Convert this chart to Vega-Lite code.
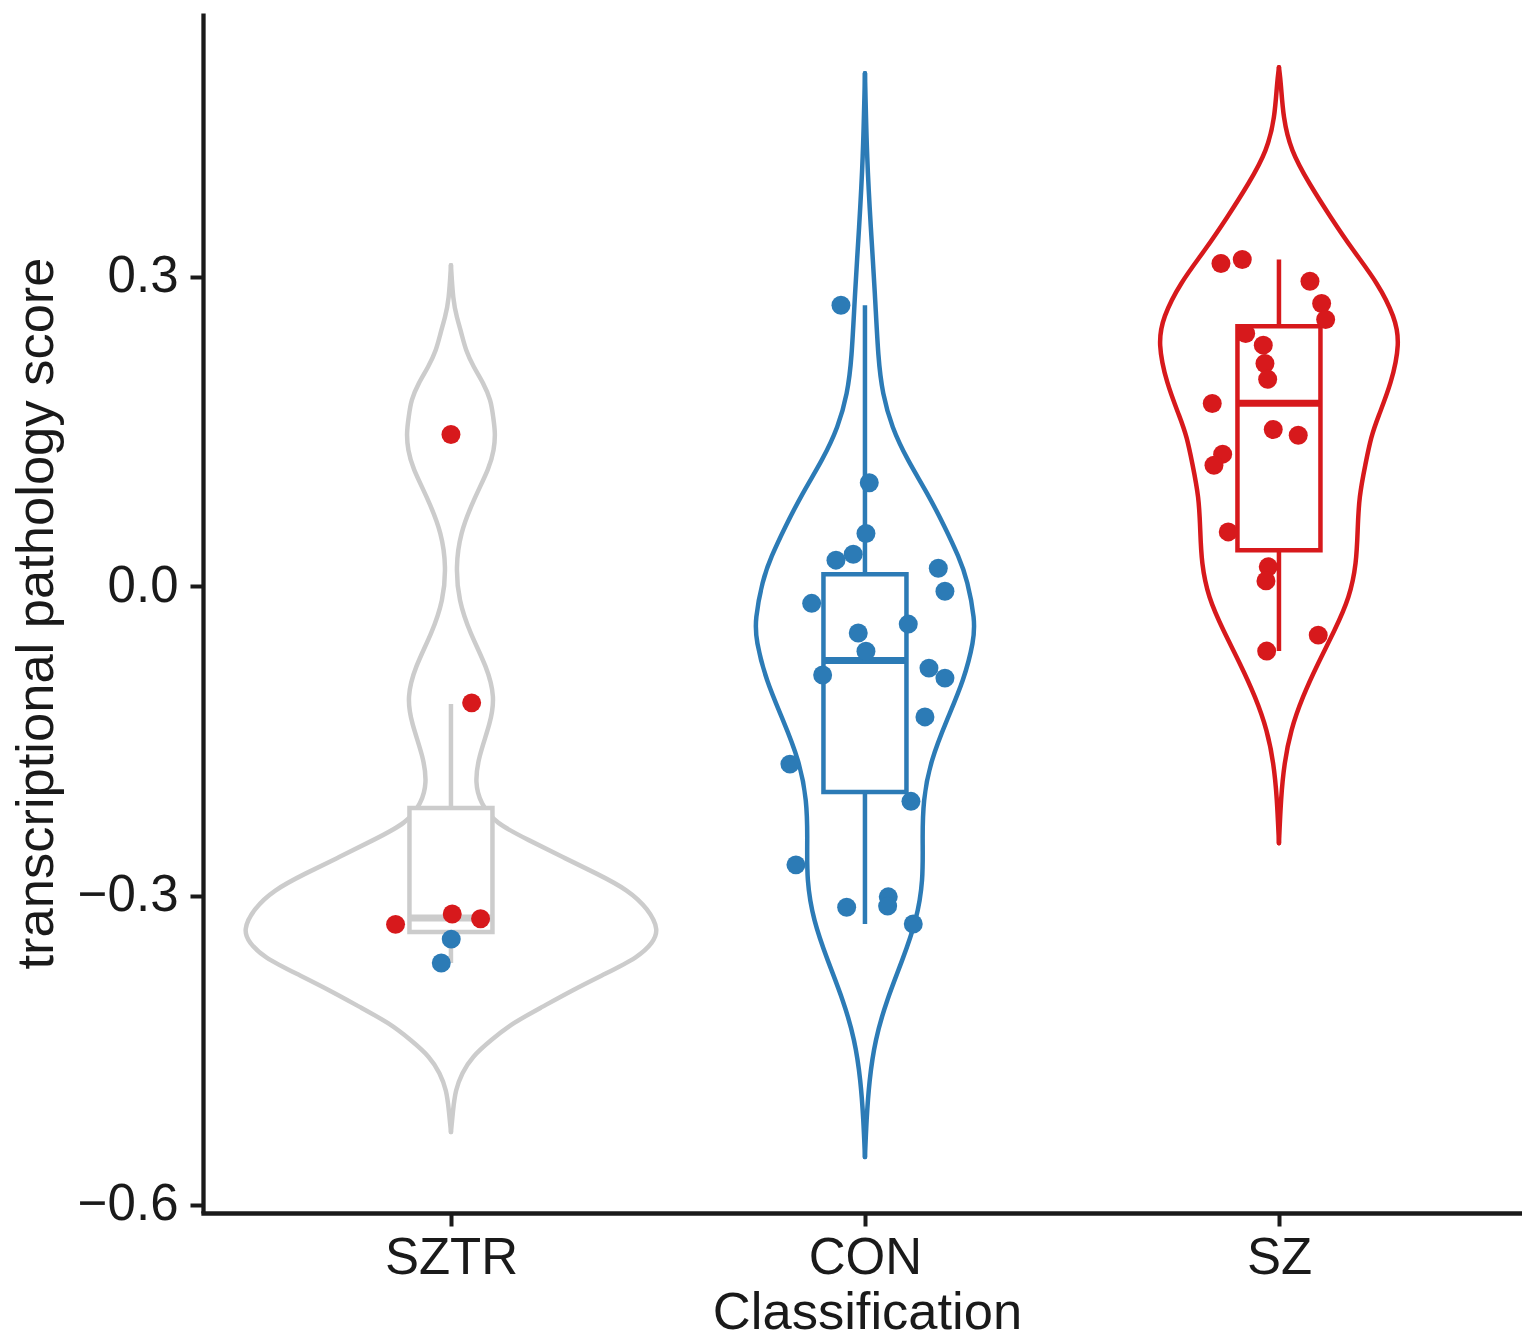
{
  "$schema": "https://vega.github.io/schema/vega-lite/v6.json",
  "width": 1319,
  "height": 1200,
  "autosize": {"type": "none"},
  "padding": {"left": 203, "top": 13, "right": 0, "bottom": 128},
  "background": "white",
  "config": {
    "view": {"stroke": null},
    "font": "Liberation Sans",
    "axis": {
      "grid": false,
      "domainColor": "#1a1a1a",
      "domainWidth": 4.3,
      "tickColor": "#1a1a1a",
      "tickWidth": 4,
      "tickSize": 13,
      "labelFontSize": 51,
      "labelColor": "#1a1a1a",
      "labelFont": "Liberation Sans",
      "titleFontSize": 52.5,
      "titleFontWeight": "normal",
      "titleColor": "#1a1a1a",
      "titleFont": "Liberation Sans"
    }
  },
  "datasets": {
    "violin": [
      {"cls": "SZTR", "v": 0.3113, "w": 0},
      {"cls": "SZTR", "v": 0.2774, "w": 0.005},
      {"cls": "SZTR", "v": 0.2609, "w": 0.014},
      {"cls": "SZTR", "v": 0.2454, "w": 0.0254},
      {"cls": "SZTR", "v": 0.2289, "w": 0.0355},
      {"cls": "SZTR", "v": 0.2124, "w": 0.0548},
      {"cls": "SZTR", "v": 0.1969, "w": 0.0785},
      {"cls": "SZTR", "v": 0.1804, "w": 0.0966},
      {"cls": "SZTR", "v": 0.1643, "w": 0.1019},
      {"cls": "SZTR", "v": 0.1484, "w": 0.1075},
      {"cls": "SZTR", "v": 0.1319, "w": 0.1039},
      {"cls": "SZTR", "v": 0.1155, "w": 0.0935},
      {"cls": "SZTR", "v": 0.0835, "w": 0.0543},
      {"cls": "SZTR", "v": 0.0515, "w": 0.0222},
      {"cls": "SZTR", "v": 0.0185, "w": 0.0116},
      {"cls": "SZTR", "v": -0.0135, "w": 0.0186},
      {"cls": "SZTR", "v": -0.0455, "w": 0.0459},
      {"cls": "SZTR", "v": -0.0784, "w": 0.087},
      {"cls": "SZTR", "v": -0.1075, "w": 0.1063},
      {"cls": "SZTR", "v": -0.1327, "w": 0.0954},
      {"cls": "SZTR", "v": -0.1657, "w": 0.0664},
      {"cls": "SZTR", "v": -0.1909, "w": 0.058},
      {"cls": "SZTR", "v": -0.2103, "w": 0.0713},
      {"cls": "SZTR", "v": -0.2297, "w": 0.1063},
      {"cls": "SZTR", "v": -0.2462, "w": 0.188},
      {"cls": "SZTR", "v": -0.2627, "w": 0.2698},
      {"cls": "SZTR", "v": -0.2787, "w": 0.3527},
      {"cls": "SZTR", "v": -0.2947, "w": 0.4287},
      {"cls": "SZTR", "v": -0.3131, "w": 0.477},
      {"cls": "SZTR", "v": -0.3334, "w": 0.5024},
      {"cls": "SZTR", "v": -0.346, "w": 0.4872},
      {"cls": "SZTR", "v": -0.3596, "w": 0.4529},
      {"cls": "SZTR", "v": -0.376, "w": 0.372},
      {"cls": "SZTR", "v": -0.3916, "w": 0.294},
      {"cls": "SZTR", "v": -0.4081, "w": 0.2198},
      {"cls": "SZTR", "v": -0.4236, "w": 0.149},
      {"cls": "SZTR", "v": -0.4401, "w": 0.0966},
      {"cls": "SZTR", "v": -0.4566, "w": 0.0502},
      {"cls": "SZTR", "v": -0.4721, "w": 0.0266},
      {"cls": "SZTR", "v": -0.4886, "w": 0.0109},
      {"cls": "SZTR", "v": -0.508, "w": 0.005},
      {"cls": "SZTR", "v": -0.5293, "w": 0},
      {"cls": "CON", "v": 0.4975, "w": 0},
      {"cls": "CON", "v": 0.4131, "w": 0.0048},
      {"cls": "CON", "v": 0.3482, "w": 0.014},
      {"cls": "CON", "v": 0.2842, "w": 0.0242},
      {"cls": "CON", "v": 0.2192, "w": 0.0321},
      {"cls": "CON", "v": 0.1872, "w": 0.0423},
      {"cls": "CON", "v": 0.1543, "w": 0.0645},
      {"cls": "CON", "v": 0.1223, "w": 0.1027},
      {"cls": "CON", "v": 0.0903, "w": 0.151},
      {"cls": "CON", "v": 0.0573, "w": 0.1932},
      {"cls": "CON", "v": 0.0282, "w": 0.2271},
      {"cls": "CON", "v": 0.0059, "w": 0.2476},
      {"cls": "CON", "v": -0.0329, "w": 0.2657},
      {"cls": "CON", "v": -0.0523, "w": 0.2633},
      {"cls": "CON", "v": -0.0912, "w": 0.2391},
      {"cls": "CON", "v": -0.13, "w": 0.1973},
      {"cls": "CON", "v": -0.1688, "w": 0.1589},
      {"cls": "CON", "v": -0.2075, "w": 0.1401},
      {"cls": "CON", "v": -0.2463, "w": 0.1389},
      {"cls": "CON", "v": -0.285, "w": 0.1408},
      {"cls": "CON", "v": -0.3238, "w": 0.1249},
      {"cls": "CON", "v": -0.3626, "w": 0.0906},
      {"cls": "CON", "v": -0.4014, "w": 0.0524},
      {"cls": "CON", "v": -0.4402, "w": 0.0242},
      {"cls": "CON", "v": -0.479, "w": 0.0104},
      {"cls": "CON", "v": -0.5178, "w": 0.0036},
      {"cls": "CON", "v": -0.5536, "w": 0},
      {"cls": "SZ", "v": 0.5032, "w": 0},
      {"cls": "SZ", "v": 0.4877, "w": 0.0048},
      {"cls": "SZ", "v": 0.4547, "w": 0.0101},
      {"cls": "SZ", "v": 0.4227, "w": 0.0283},
      {"cls": "SZ", "v": 0.3907, "w": 0.0725},
      {"cls": "SZ", "v": 0.3577, "w": 0.1249},
      {"cls": "SZ", "v": 0.3258, "w": 0.1787},
      {"cls": "SZ", "v": 0.2938, "w": 0.2391},
      {"cls": "SZ", "v": 0.2609, "w": 0.2802},
      {"cls": "SZ", "v": 0.2356, "w": 0.2923},
      {"cls": "SZ", "v": 0.1969, "w": 0.2717},
      {"cls": "SZ", "v": 0.1639, "w": 0.2391},
      {"cls": "SZ", "v": 0.1446, "w": 0.2222},
      {"cls": "SZ", "v": 0.1194, "w": 0.2094},
      {"cls": "SZ", "v": 0.0864, "w": 0.1932},
      {"cls": "SZ", "v": 0.0544, "w": 0.1901},
      {"cls": "SZ", "v": 0.0224, "w": 0.1872},
      {"cls": "SZ", "v": -0.0106, "w": 0.171},
      {"cls": "SZ", "v": -0.0427, "w": 0.1348},
      {"cls": "SZ", "v": -0.0747, "w": 0.0942},
      {"cls": "SZ", "v": -0.1077, "w": 0.0563},
      {"cls": "SZ", "v": -0.1397, "w": 0.0283},
      {"cls": "SZ", "v": -0.1717, "w": 0.0128},
      {"cls": "SZ", "v": -0.2046, "w": 0.0048},
      {"cls": "SZ", "v": -0.2492, "w": 0}
    ],
    "box": [
      {"cls": "SZTR", "lo": -0.3654, "q1": -0.3354, "med": -0.3218, "q3": -0.2151, "hi": -0.1143},
      {"cls": "CON", "lo": -0.3276, "q1": -0.1996, "med": -0.0719, "q3": 0.0117, "hi": 0.2725},
      {"cls": "SZ", "lo": -0.0629, "q1": 0.035, "med": 0.1775, "q3": 0.2522, "hi": 0.3169}
    ],
    "points": [
      {"cls": "SZTR", "dx": "SZ", "v": 0.1472, "j": 0},
      {"cls": "SZTR", "dx": "SZ", "v": -0.1131, "j": 0.05},
      {"cls": "SZTR", "dx": "SZ", "v": -0.3279, "j": -0.1338},
      {"cls": "SZTR", "dx": "SZ", "v": -0.3179, "j": 0.0031},
      {"cls": "SZTR", "dx": "SZ", "v": -0.3225, "j": 0.0715},
      {"cls": "SZTR", "dx": "CON", "v": -0.3422, "j": 0.0007},
      {"cls": "SZTR", "dx": "CON", "v": -0.3654, "j": -0.0234},
      {"cls": "CON", "dx": "CON", "v": 0.2725, "j": -0.058},
      {"cls": "CON", "dx": "CON", "v": 0.1003, "j": 0.0104},
      {"cls": "CON", "dx": "CON", "v": 0.0512, "j": 0.0024},
      {"cls": "CON", "dx": "CON", "v": 0.0253, "j": -0.07},
      {"cls": "CON", "dx": "CON", "v": 0.0311, "j": -0.0283},
      {"cls": "CON", "dx": "CON", "v": 0.0175, "j": 0.1771},
      {"cls": "CON", "dx": "CON", "v": -0.0049, "j": 0.1932},
      {"cls": "CON", "dx": "CON", "v": -0.0166, "j": -0.1287},
      {"cls": "CON", "dx": "CON", "v": -0.0367, "j": 0.1046},
      {"cls": "CON", "dx": "CON", "v": -0.0453, "j": -0.0162},
      {"cls": "CON", "dx": "CON", "v": -0.0631, "j": 0.0024},
      {"cls": "CON", "dx": "CON", "v": -0.086, "j": -0.1022},
      {"cls": "CON", "dx": "CON", "v": -0.0794, "j": 0.1546},
      {"cls": "CON", "dx": "CON", "v": -0.0891, "j": 0.1932},
      {"cls": "CON", "dx": "CON", "v": -0.1267, "j": 0.1449},
      {"cls": "CON", "dx": "CON", "v": -0.1725, "j": -0.1812},
      {"cls": "CON", "dx": "CON", "v": -0.2086, "j": 0.1111},
      {"cls": "CON", "dx": "CON", "v": -0.2702, "j": -0.1667},
      {"cls": "CON", "dx": "CON", "v": -0.3113, "j": -0.0442},
      {"cls": "CON", "dx": "CON", "v": -0.3012, "j": 0.0563},
      {"cls": "CON", "dx": "CON", "v": -0.3102, "j": 0.0548},
      {"cls": "CON", "dx": "CON", "v": -0.3276, "j": 0.1167},
      {"cls": "SZ", "dx": "SZ", "v": 0.313, "j": -0.1401},
      {"cls": "SZ", "dx": "SZ", "v": 0.3169, "j": -0.0886},
      {"cls": "SZ", "dx": "SZ", "v": 0.2958, "j": 0.0749},
      {"cls": "SZ", "dx": "SZ", "v": 0.2742, "j": 0.1031},
      {"cls": "SZ", "dx": "SZ", "v": 0.2587, "j": 0.1128},
      {"cls": "SZ", "dx": "SZ", "v": 0.2451, "j": -0.0804},
      {"cls": "SZ", "dx": "SZ", "v": 0.2338, "j": -0.0379},
      {"cls": "SZ", "dx": "SZ", "v": 0.216, "j": -0.0338},
      {"cls": "SZ", "dx": "SZ", "v": 0.2008, "j": -0.0273},
      {"cls": "SZ", "dx": "SZ", "v": 0.1772, "j": -0.1611},
      {"cls": "SZ", "dx": "SZ", "v": 0.152, "j": -0.0138},
      {"cls": "SZ", "dx": "SZ", "v": 0.1465, "j": 0.0466},
      {"cls": "SZ", "dx": "SZ", "v": 0.1281, "j": -0.136},
      {"cls": "SZ", "dx": "SZ", "v": 0.1174, "j": -0.157},
      {"cls": "SZ", "dx": "SZ", "v": 0.0527, "j": -0.1225},
      {"cls": "SZ", "dx": "SZ", "v": 0.0188, "j": -0.0258},
      {"cls": "SZ", "dx": "SZ", "v": 0.0052, "j": -0.0314},
      {"cls": "SZ", "dx": "SZ", "v": -0.0474, "j": 0.0949},
      {"cls": "SZ", "dx": "SZ", "v": -0.0629, "j": -0.0297}
    ]
  },
  "layer": [
    {
      "data": {"name": "violin"},
      "mark": {"type": "line", "strokeWidth": 4.5, "interpolate": "basis", "strokeCap": "round", "strokeJoin": "round"},
      "encoding": {
        "x": {"field": "cls", "type": "nominal", "scale": {"type": "point", "domain": ["SZTR", "CON", "SZ"], "padding": 0.593, "align": 0.505}, "axis": {"title": "Classification", "labelAngle": 0, "labelPadding": 7, "titleX": 664, "titleY": 115, "titleBaseline": "alphabetic", "titleAlign": "center", "domainCap": "square"}},
        "y": {"field": "v", "type": "quantitative", "scale": {"domain": [-0.6078, 0.5559], "nice": false, "zero": false}, "axis": {"title": "transcriptional pathology score", "values": [-0.6, -0.3, 0, 0.3], "format": ".1f", "labelPadding": 12, "titleX": -151, "titleY": 600, "titleAngle": -90, "titleBaseline": "alphabetic", "titleAlign": "center", "domainCap": "butt"}},
        "xOffset": {"field": "w", "type": "quantitative", "scale": {"domain": [0, 1], "range": [0, -414], "zero": false, "nice": false}},
        "color": {"field": "cls", "type": "nominal", "scale": {"domain": ["SZTR", "CON", "SZ"], "range": ["#CCCCCC", "#2C7BB6", "#D7191C"]}, "legend": null},
        "order": {"field": "v", "type": "quantitative"}
      }
    },
    {
      "data": {"name": "violin"},
      "mark": {"type": "line", "strokeWidth": 4.5, "interpolate": "basis", "strokeCap": "round", "strokeJoin": "round"},
      "encoding": {
        "x": {"field": "cls", "type": "nominal", "scale": {"type": "point", "domain": ["SZTR", "CON", "SZ"], "padding": 0.593, "align": 0.505}, "axis": {"title": "Classification", "labelAngle": 0, "labelPadding": 7, "titleX": 664, "titleY": 115, "titleBaseline": "alphabetic", "titleAlign": "center", "domainCap": "square"}},
        "y": {"field": "v", "type": "quantitative", "scale": {"domain": [-0.6078, 0.5559], "nice": false, "zero": false}, "axis": {"title": "transcriptional pathology score", "values": [-0.6, -0.3, 0, 0.3], "format": ".1f", "labelPadding": 12, "titleX": -151, "titleY": 600, "titleAngle": -90, "titleBaseline": "alphabetic", "titleAlign": "center", "domainCap": "butt"}},
        "xOffset": {"field": "w", "type": "quantitative", "scale": {"domain": [0, 1], "range": [0, 414], "zero": false, "nice": false}},
        "color": {"field": "cls", "type": "nominal", "scale": {"domain": ["SZTR", "CON", "SZ"], "range": ["#CCCCCC", "#2C7BB6", "#D7191C"]}, "legend": null},
        "order": {"field": "v", "type": "quantitative"}
      }
    },
    {
      "data": {"name": "box"},
      "mark": {"type": "rule", "strokeWidth": 4.5},
      "encoding": {
        "x": {"field": "cls", "type": "nominal", "scale": {"type": "point", "domain": ["SZTR", "CON", "SZ"], "padding": 0.593, "align": 0.505}, "axis": {"title": "Classification", "labelAngle": 0, "labelPadding": 7, "titleX": 664, "titleY": 115, "titleBaseline": "alphabetic", "titleAlign": "center", "domainCap": "square"}},
        "y": {"field": "lo", "type": "quantitative", "scale": {"domain": [-0.6078, 0.5559], "nice": false, "zero": false}, "axis": {"title": "transcriptional pathology score", "values": [-0.6, -0.3, 0, 0.3], "format": ".1f", "labelPadding": 12, "titleX": -151, "titleY": 600, "titleAngle": -90, "titleBaseline": "alphabetic", "titleAlign": "center", "domainCap": "butt"}},
        "y2": {"field": "hi"},
        "color": {"field": "cls", "type": "nominal", "scale": {"domain": ["SZTR", "CON", "SZ"], "range": ["#CCCCCC", "#2C7BB6", "#D7191C"]}, "legend": null}
      }
    },
    {
      "data": {"name": "box"},
      "mark": {"type": "bar", "width": 83, "fill": "white", "strokeWidth": 4.5, "strokeJoin": "miter"},
      "encoding": {
        "x": {"field": "cls", "type": "nominal", "scale": {"type": "point", "domain": ["SZTR", "CON", "SZ"], "padding": 0.593, "align": 0.505}, "axis": {"title": "Classification", "labelAngle": 0, "labelPadding": 7, "titleX": 664, "titleY": 115, "titleBaseline": "alphabetic", "titleAlign": "center", "domainCap": "square"}},
        "y": {"field": "q1", "type": "quantitative", "scale": {"domain": [-0.6078, 0.5559], "nice": false, "zero": false}, "axis": {"title": "transcriptional pathology score", "values": [-0.6, -0.3, 0, 0.3], "format": ".1f", "labelPadding": 12, "titleX": -151, "titleY": 600, "titleAngle": -90, "titleBaseline": "alphabetic", "titleAlign": "center", "domainCap": "butt"}},
        "y2": {"field": "q3"},
        "stroke": {"field": "cls", "type": "nominal", "scale": {"domain": ["SZTR", "CON", "SZ"], "range": ["#CCCCCC", "#2C7BB6", "#D7191C"]}, "legend": null}
      }
    },
    {
      "data": {"name": "box"},
      "mark": {"type": "tick", "orient": "horizontal", "size": 83, "thickness": 7, "opacity": 1},
      "encoding": {
        "x": {"field": "cls", "type": "nominal", "scale": {"type": "point", "domain": ["SZTR", "CON", "SZ"], "padding": 0.593, "align": 0.505}, "axis": {"title": "Classification", "labelAngle": 0, "labelPadding": 7, "titleX": 664, "titleY": 115, "titleBaseline": "alphabetic", "titleAlign": "center", "domainCap": "square"}},
        "y": {"field": "med", "type": "quantitative", "scale": {"domain": [-0.6078, 0.5559], "nice": false, "zero": false}, "axis": {"title": "transcriptional pathology score", "values": [-0.6, -0.3, 0, 0.3], "format": ".1f", "labelPadding": 12, "titleX": -151, "titleY": 600, "titleAngle": -90, "titleBaseline": "alphabetic", "titleAlign": "center", "domainCap": "butt"}},
        "color": {"field": "cls", "type": "nominal", "scale": {"domain": ["SZTR", "CON", "SZ"], "range": ["#CCCCCC", "#2C7BB6", "#D7191C"]}, "legend": null}
      }
    },
    {
      "data": {"name": "points"},
      "mark": {"type": "circle", "size": 360, "opacity": 1},
      "encoding": {
        "x": {"field": "cls", "type": "nominal", "scale": {"type": "point", "domain": ["SZTR", "CON", "SZ"], "padding": 0.593, "align": 0.505}, "axis": {"title": "Classification", "labelAngle": 0, "labelPadding": 7, "titleX": 664, "titleY": 115, "titleBaseline": "alphabetic", "titleAlign": "center", "domainCap": "square"}},
        "y": {"field": "v", "type": "quantitative", "scale": {"domain": [-0.6078, 0.5559], "nice": false, "zero": false}, "axis": {"title": "transcriptional pathology score", "values": [-0.6, -0.3, 0, 0.3], "format": ".1f", "labelPadding": 12, "titleX": -151, "titleY": 600, "titleAngle": -90, "titleBaseline": "alphabetic", "titleAlign": "center", "domainCap": "butt"}},
        "xOffset": {"field": "j", "type": "quantitative", "scale": {"domain": [-1, 1], "range": [-414, 414], "zero": false, "nice": false}},
        "color": {"field": "dx", "type": "nominal", "scale": {"domain": ["SZTR", "CON", "SZ"], "range": ["#CCCCCC", "#2C7BB6", "#D7191C"]}, "legend": null}
      }
    }
  ],
  "resolve": {"scale": {"xOffset": "independent"}}
}
